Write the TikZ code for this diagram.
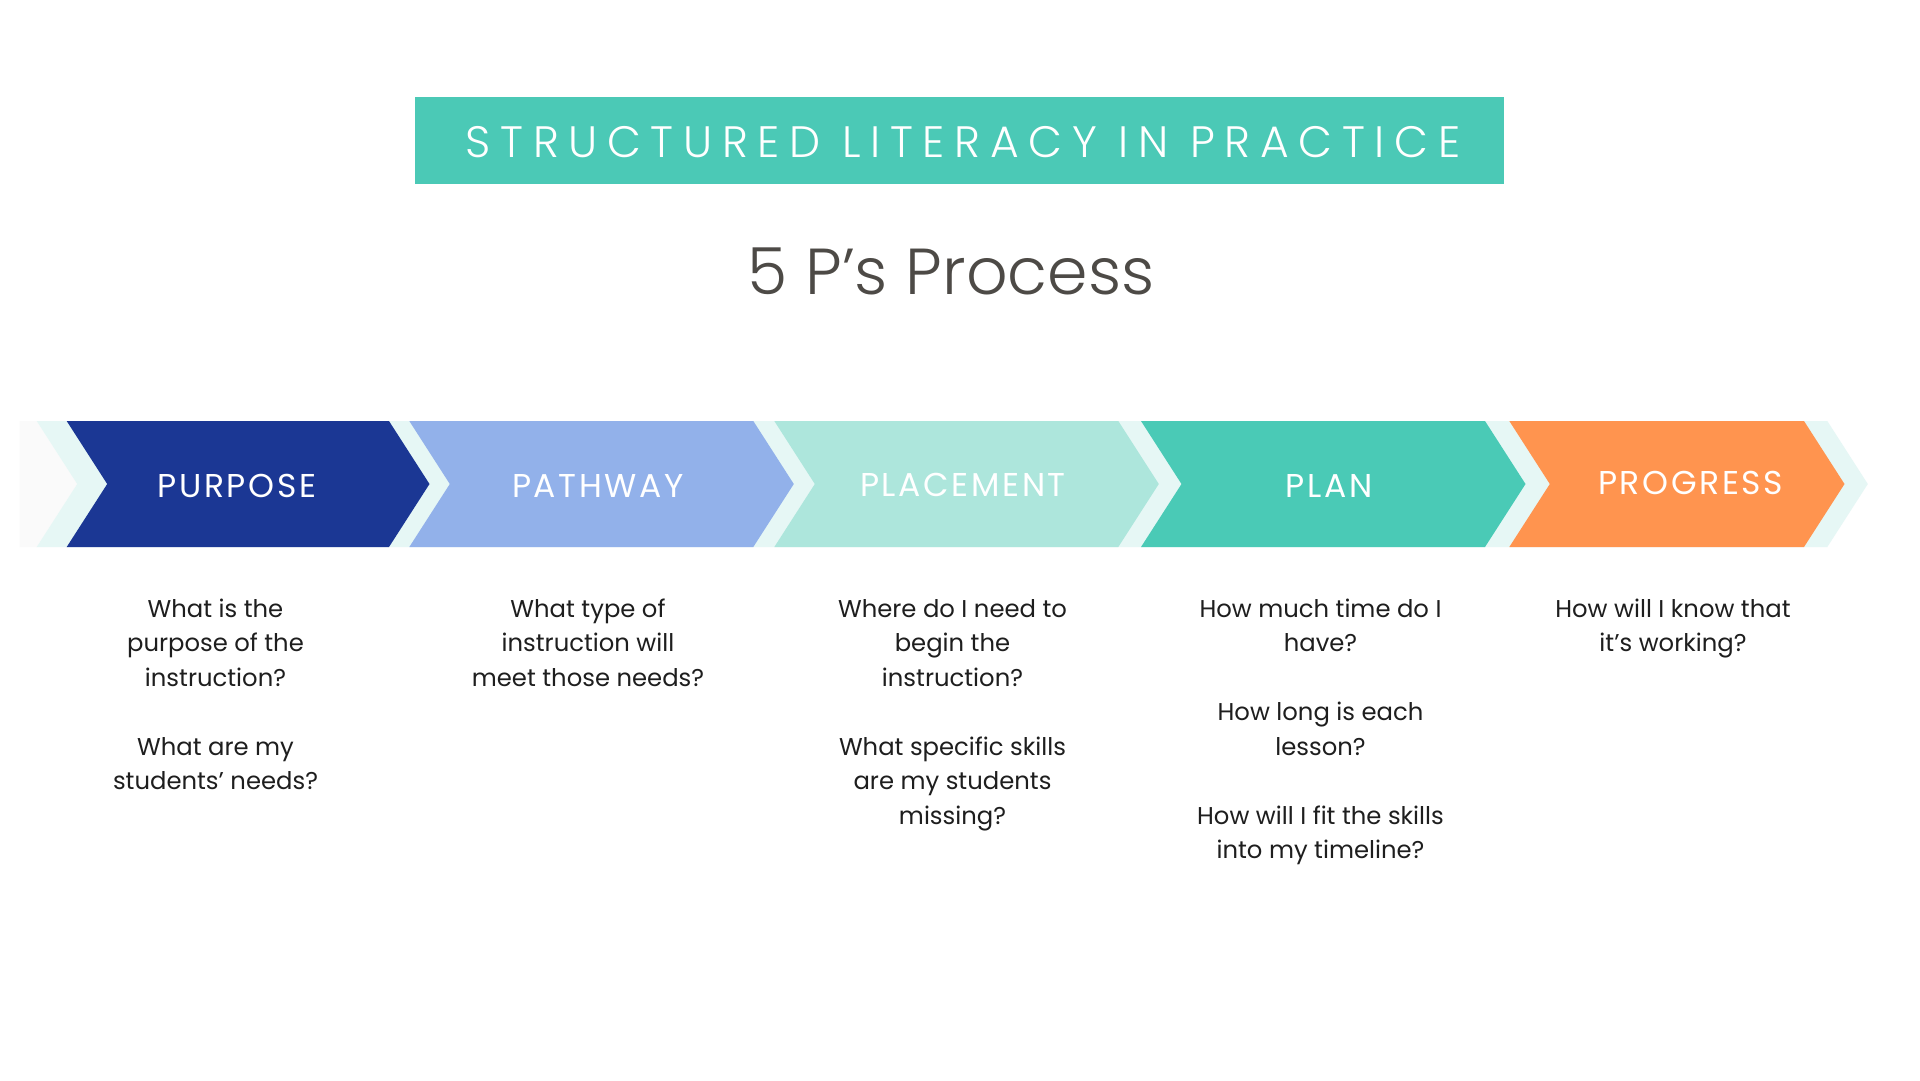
\documentclass[tikz,border=0pt]{standalone}
\usepackage{fontspec}
\setmainfont{Poppins}
\newfontfamily\lightfont{Poppins Light}
\newfontfamily\spacedfont[LetterSpace=22]{Poppins Light}
\newfontfamily\labelfont[LetterSpace=8]{Poppins}
\definecolor{cBanner}{HTML}{4BC9B6}
\definecolor{cPurpose}{HTML}{1B3794}
\definecolor{cPathway}{HTML}{92B1EA}
\definecolor{cPlacement}{HTML}{ADE6DC}
\definecolor{cPlan}{HTML}{4ACAB6}
\definecolor{cProgress}{HTML}{FF944F}
\definecolor{cLight}{HTML}{E6F7F5}
\definecolor{cTitle}{HTML}{4D4A46}
\definecolor{cBody}{HTML}{1E1E1E}
\newcommand{\chevshape}[3]{%
  \fill[#3] (#1,421) -- (#2,421) -- ({#2+40.5},484) -- (#2,547) -- (#1,547) -- ({#1+40.5},484) -- cycle;}
\tikzset{
  chevlabel/.style={anchor=base, inner sep=0, text=white, font=\labelfont\fontsize{33}{33}\selectfont},
  bodytext/.style={anchor=base, inner sep=0, align=center, text=cBody, font=\fontsize{24.3}{34.5}\selectfont},
}
\begin{document}
\begin{tikzpicture}[x=1pt,y=-1pt]
\useasboundingbox (0,0) rectangle (1920,1080);
\fill[white] (0,0) rectangle (1920,1080);
% banner
\fill[cBanner] (415,97) rectangle (1504,184);
\node[anchor=base, inner sep=0, text=white, font=\spacedfont\fontsize{44}{44}\selectfont] (banner) at (963,157) {STRUCTURED LITERACY IN PRACTICE};
% title
\node[anchor=base, inner sep=0, text=cTitle, font=\lightfont\fontsize{65}{65}\selectfont] (title) at (951,294) {5 P’s Process};
% faint tail
\fill[black!2] (19.6,421) -- (36.7,421) -- (77.2,484) -- (36.7,547) -- (19.6,547) -- cycle;
% light backing chevrons
\chevshape{36.7}{409.3}{cLight}
\chevshape{409.3}{774.3}{cLight}
\chevshape{774.3}{1141}{cLight}
\chevshape{1141}{1509.3}{cLight}
\chevshape{1509.3}{1827.3}{cLight}
% coloured chevrons
\chevshape{66.7}{389}{cPurpose}
\chevshape{409.3}{753.3}{cPathway}
\chevshape{774.3}{1118.3}{cPlacement}
\chevshape{1141}{1485}{cPlan}
\chevshape{1509.3}{1804}{cProgress}
% labels
\node[chevlabel] (purpose) at (236.7,497) {PURPOSE};
\node[chevlabel] (pathway) at (598,497.5) {PATHWAY};
\node[chevlabel] (placement) at (963,496) {PLACEMENT};
\node[chevlabel] (plan) at (1329,497.5) {PLAN};
\node[chevlabel] (progress) at (1690.7,494.3) {PROGRESS};
% body text (anchored at the baseline of the last line)
\node[bodytext] (q1) at (215.5,789.5) {What is the\\purpose of the\\instruction?\\[34.5pt]What are my\\students’ needs?};
\node[bodytext] (q2) at (588,686) {What type of\\instruction will\\meet those needs?};
\node[bodytext] (q3) at (952.5,824) {Where do I need to\\begin the\\instruction?\\[34.5pt]What specific skills\\are my students\\missing?};
\node[bodytext] (q4) at (1320.5,858.5) {How much time do I\\have?\\[34.5pt]How long is each\\lesson?\\[34.5pt]How will I fit the skills\\into my timeline?};
\node[bodytext] (q5) at (1673,651.5) {How will I know that\\it’s working?};
\end{tikzpicture}
\end{document}
